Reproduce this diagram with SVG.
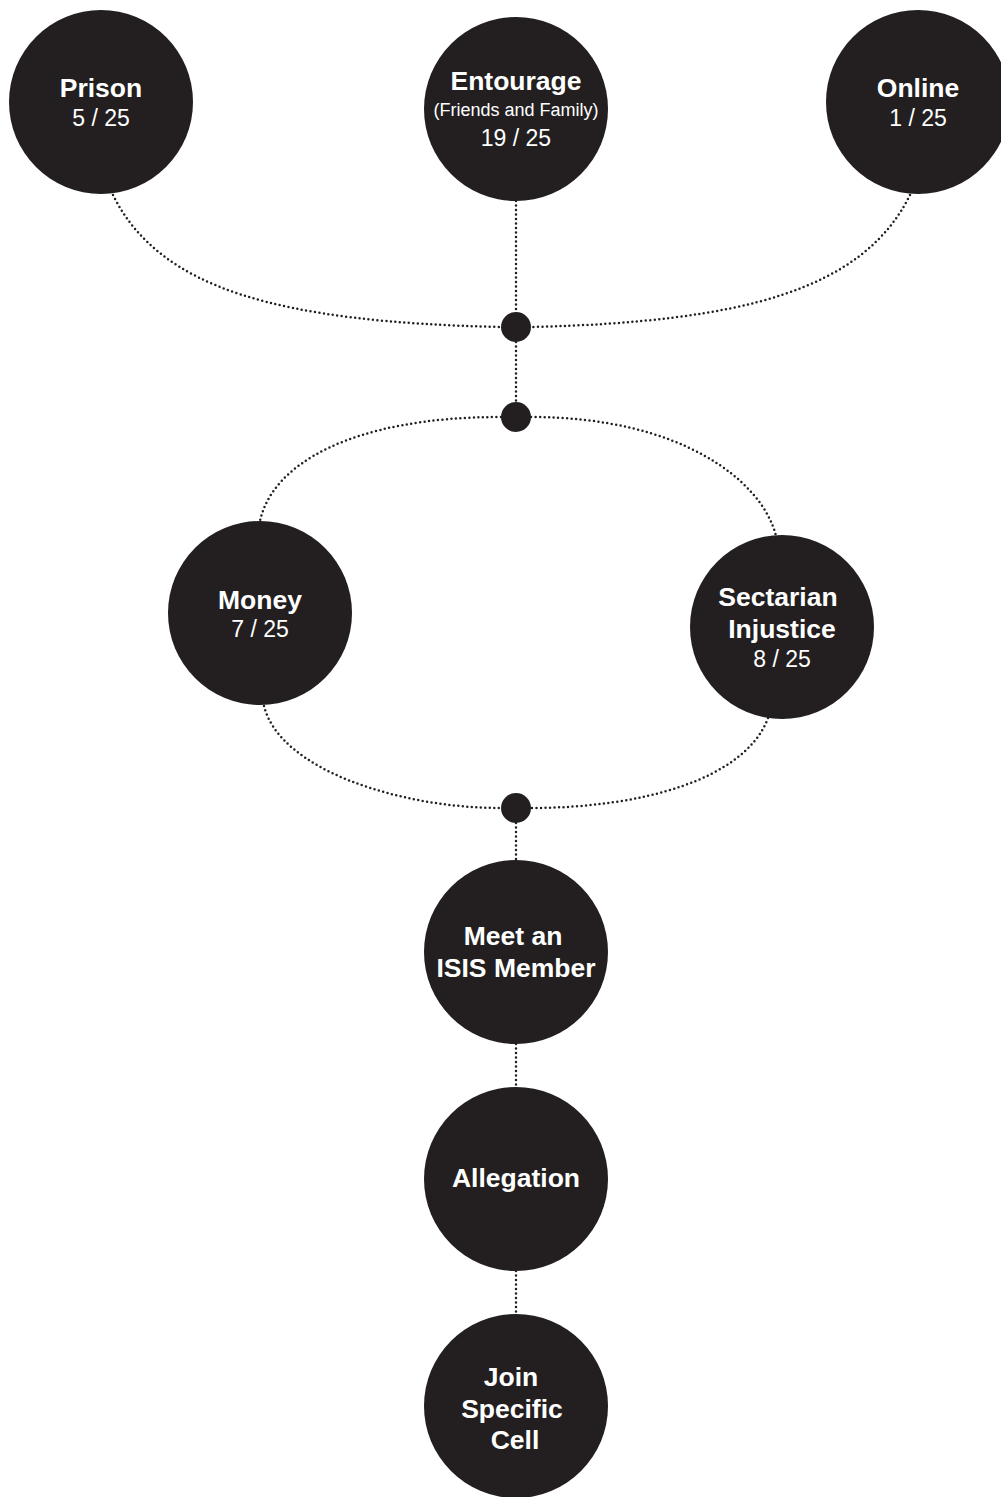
<svg xmlns="http://www.w3.org/2000/svg" width="1001" height="1497" viewBox="0 0 1001 1497">
<style>
.node{fill:#231f20}
.dot{fill:#231f20}
.conn{fill:none;stroke:#231f20;stroke-width:2.5;stroke-linecap:round;stroke-dasharray:0 4.5}
.t{font-family:"Liberation Sans",Arial,sans-serif;fill:#fff;text-anchor:middle}
.b{font-weight:bold;font-size:26.5px}
.n{font-size:23px}
.s{font-size:18px}
</style>
<rect width="1001" height="1497" fill="#fff"/>
<g id="connectors">
<path class="conn" d="M113,195 C160,290 280,322 501,327"/>
<path class="conn" d="M910,195 C863,290 743,322 531,327"/>
<path class="conn" d="M516,201 L516,312"/>
<path class="conn" d="M516,342 L516,402"/>
<path class="conn" d="M501,417 C350,417 272,465 260,521"/>
<path class="conn" d="M531,417 C680,417 762,480 776,536"/>
<path class="conn" d="M264,706 C280,770 400,808 501,808"/>
<path class="conn" d="M768,718 C745,780 640,808 531,808"/>
<path class="conn" d="M516,823 L516,860"/>
<path class="conn" d="M516,1044 L516,1087"/>
<path class="conn" d="M516,1271 L516,1315"/>
</g>
<g id="junctions">
<circle class="dot" cx="516" cy="327" r="15"/>
<circle class="dot" cx="516" cy="417" r="15"/>
<circle class="dot" cx="516" cy="808" r="15"/>
</g>
<g id="prison">
<circle class="node" cx="101" cy="102" r="92"/>
<text class="t b" x="101" y="97">Prison</text>
<text class="t n" x="101" y="126">5 / 25</text>
</g>
<g id="entourage">
<circle class="node" cx="516" cy="109" r="92"/>
<text class="t b" x="516" y="90">Entourage</text>
<text class="t s" x="516" y="116">(Friends and Family)</text>
<text class="t n" x="516" y="146">19 / 25</text>
</g>
<g id="online">
<circle class="node" cx="918" cy="102" r="92"/>
<text class="t b" x="918" y="97">Online</text>
<text class="t n" x="918" y="126">1 / 25</text>
</g>
<g id="money">
<circle class="node" cx="260" cy="613" r="92"/>
<text class="t b" x="260" y="609">Money</text>
<text class="t n" x="260" y="637">7 / 25</text>
</g>
<g id="sectarian">
<circle class="node" cx="782" cy="627" r="92"/>
<text class="t b" x="778" y="606">Sectarian</text>
<text class="t b" x="782" y="638">Injustice</text>
<text class="t n" x="782" y="667">8 / 25</text>
</g>
<g id="meet">
<circle class="node" cx="516" cy="952" r="92"/>
<text class="t b" x="513" y="945">Meet an</text>
<text class="t b" x="516" y="977">ISIS Member</text>
</g>
<g id="allegation">
<circle class="node" cx="516" cy="1179" r="92"/>
<text class="t b" x="516" y="1187">Allegation</text>
</g>
<g id="join">
<circle class="node" cx="516" cy="1406" r="92"/>
<text class="t b" x="511" y="1386">Join</text>
<text class="t b" x="512" y="1418">Specific</text>
<text class="t b" x="515" y="1449">Cell</text>
</g>
</svg>
